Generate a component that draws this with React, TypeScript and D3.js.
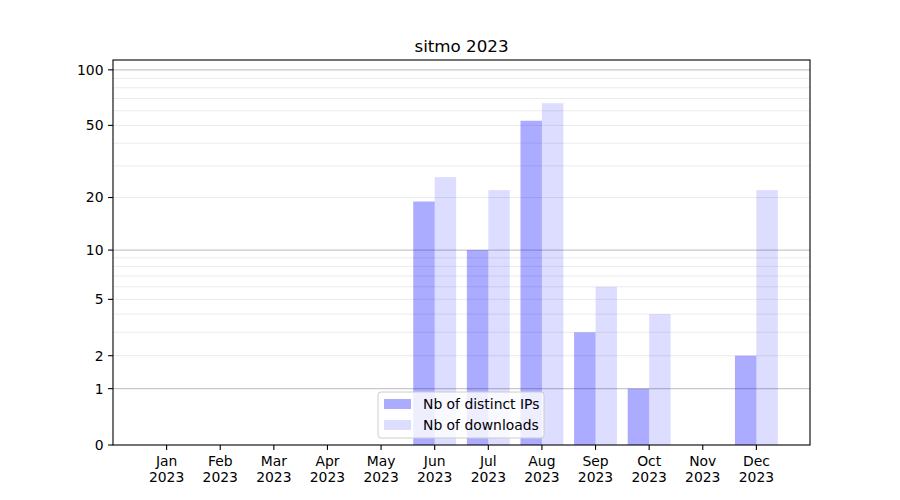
import { useEffect, useRef } from "react";
import * as d3 from "d3";

const months = ["Jan", "Feb", "Mar", "Apr", "May", "Jun", "Jul", "Aug", "Sep", "Oct", "Nov", "Dec"];
const year = "2023";
const distinctIps = [0, 0, 0, 0, 0, 19, 10, 53, 3, 1, 0, 2];
const downloads = [0, 0, 0, 0, 0, 26, 22, 66, 6, 4, 0, 22];
const majorTicks = [0, 1, 2, 5, 10, 20, 50, 100];
const majorGrid = [1, 10, 100];
const minorGrid = [2, 3, 4, 5, 6, 7, 8, 9, 20, 30, 40, 50, 60, 70, 80, 90];

const FONT = "DejaVu Sans, sans-serif";

export default function App() {
  const svgRef = useRef<SVGSVGElement | null>(null);

  useEffect(() => {
    const el = svgRef.current;
    if (!el) return;
    const width = 900;
    const height = 500;
    const margin = { top: 60, right: 90, bottom: 55, left: 113 };
    const w = width - margin.left - margin.right;
    const h = height - margin.top - margin.bottom;

    const svg = d3.select(el);
    svg.selectAll("*").remove();

    // log(x + 1) scale so zero sits on the baseline
    const logY = d3.scaleLog().domain([1, 114]).range([h, 0]);
    const y = (v: number) => logY(v + 1);
    const x = d3.scaleLinear().domain([-1, 12]).range([0, w]);
    const barW = x(0.4) - x(0);

    const g = svg.append("g").attr("transform", `translate(${margin.left},${margin.top})`);

    g.selectAll("line.minor")
      .data(minorGrid)
      .join("line")
      .attr("class", "minor")
      .attr("x1", 0)
      .attr("x2", w)
      .attr("y1", (d) => y(d))
      .attr("y2", (d) => y(d))
      .attr("stroke", "#ebebeb")
      .attr("stroke-width", 1);

    g.selectAll("line.major")
      .data(majorGrid)
      .join("line")
      .attr("class", "major")
      .attr("x1", 0)
      .attr("x2", w)
      .attr("y1", (d) => y(d))
      .attr("y2", (d) => y(d))
      .attr("stroke", "#c8c8c8")
      .attr("stroke-width", 1.1);

    const idx = d3.range(months.length);

    g.selectAll("rect.ips")
      .data(idx.filter((i) => distinctIps[i] > 0))
      .join("rect")
      .attr("class", "ips")
      .attr("x", (i) => x(i) - barW)
      .attr("width", barW)
      .attr("y", (i) => y(distinctIps[i]))
      .attr("height", (i) => h - y(distinctIps[i]))
      .attr("fill", "blue")
      .attr("fill-opacity", 0.33);

    g.selectAll("rect.dl")
      .data(idx.filter((i) => downloads[i] > 0))
      .join("rect")
      .attr("class", "dl")
      .attr("x", (i) => x(i))
      .attr("width", barW)
      .attr("y", (i) => y(downloads[i]))
      .attr("height", (i) => h - y(downloads[i]))
      .attr("fill", "blue")
      .attr("fill-opacity", 0.135);

    // y axis
    const yAxis = g.append("g");
    majorTicks.forEach((t) => {
      yAxis
        .append("line")
        .attr("x1", -4.9)
        .attr("x2", 0)
        .attr("y1", y(t))
        .attr("y2", y(t))
        .attr("stroke", "black")
        .attr("stroke-width", 1.1);
      yAxis
        .append("text")
        .attr("x", -9.5)
        .attr("y", y(t))
        .attr("dy", "0.35em")
        .attr("text-anchor", "end")
        .attr("font-family", FONT)
        .attr("font-size", 13.9)
        .text(t);
    });

    // x axis
    const xAxis = g.append("g").attr("transform", `translate(0,${h})`);
    months.forEach((m, i) => {
      xAxis
        .append("line")
        .attr("x1", x(i))
        .attr("x2", x(i))
        .attr("y1", 0)
        .attr("y2", 4.9)
        .attr("stroke", "black")
        .attr("stroke-width", 1.1);
      const t = xAxis
        .append("text")
        .attr("text-anchor", "middle")
        .attr("font-family", FONT)
        .attr("font-size", 13.9);
      t.append("tspan").attr("x", x(i)).attr("y", 21).text(m);
      t.append("tspan").attr("x", x(i)).attr("y", 37).text(year);
    });

    g.append("rect")
      .attr("width", w)
      .attr("height", h)
      .attr("fill", "none")
      .attr("stroke", "black")
      .attr("stroke-width", 1.1);

    svg
      .append("text")
      .attr("x", margin.left + w / 2)
      .attr("y", 52)
      .attr("text-anchor", "middle")
      .attr("font-family", FONT)
      .attr("font-size", 16.7)
      .text(`sitmo ${year}`);

    // legend, lower center
    const legend = svg.append("g").attr("transform", "translate(378,392)");
    legend
      .append("rect")
      .attr("width", 166)
      .attr("height", 46)
      .attr("rx", 3)
      .attr("fill", "white")
      .attr("fill-opacity", 0.8)
      .attr("stroke", "#cccccc");
    const items = [
      { label: "Nb of distinct IPs", opacity: 0.33 },
      { label: "Nb of downloads", opacity: 0.135 },
    ];
    items.forEach((it, k) => {
      legend
        .append("rect")
        .attr("x", 6)
        .attr("y", 7 + k * 21)
        .attr("width", 27)
        .attr("height", 10)
        .attr("fill", "blue")
        .attr("fill-opacity", it.opacity);
      legend
        .append("text")
        .attr("x", 45)
        .attr("y", 12 + k * 21)
        .attr("dy", "0.35em")
        .attr("font-family", FONT)
        .attr("font-size", 13.9)
        .text(it.label);
    });
  }, []);

  return (
    <svg
      ref={svgRef}
      width={900}
      height={500}
      style={{ position: "absolute", left: 0, top: 0, background: "white" }}
    />
  );
}
